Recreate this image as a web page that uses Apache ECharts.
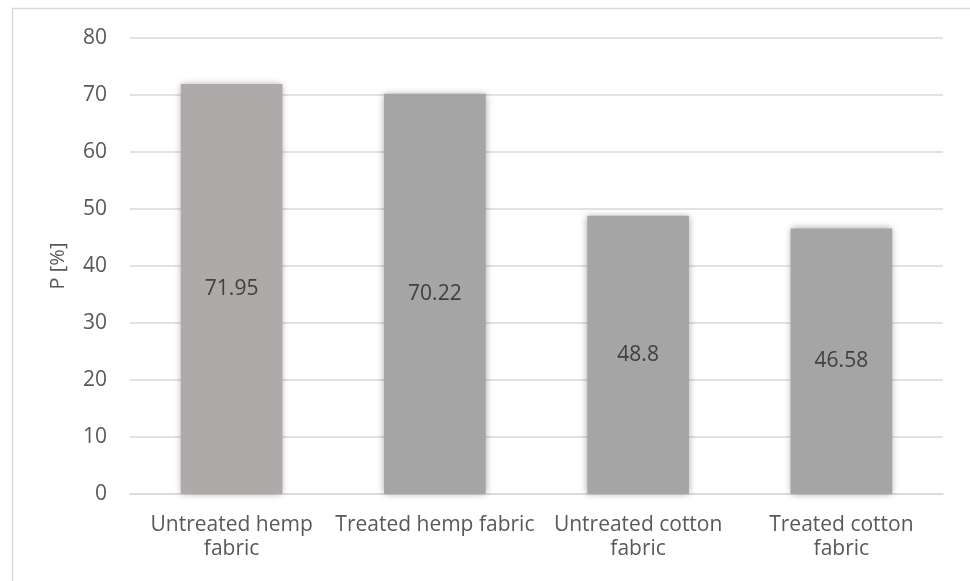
<!DOCTYPE html>
<html>
<head>
<meta charset="utf-8">
<script src="https://cdn.jsdelivr.net/npm/echarts@6/dist/echarts.min.js"></script>
<style>
  html, body { margin: 0; padding: 0; background: #fff; }
  #chart { width: 970px; height: 581px; }
</style>
</head>
<body>
<div id="chart"></div>
<script>
// Porosity of hemp and cotton fabrics
const categories = [
  'Untreated hemp\nfabric',
  'Treated hemp fabric',
  'Untreated cotton\nfabric',
  'Treated cotton\nfabric'
];
const porosity = [71.95, 70.22, 48.8, 46.58];
const barColors = ['#ADAAA9', '#A5A5A5', '#A5A5A5', '#A5A5A5'];
const yTicks = { min: 0, max: 80, interval: 10 };
const yName = 'P [%]';

const font = '"Open Sans", "Liberation Sans", sans-serif';

const chart = echarts.init(document.getElementById('chart'), null, { renderer: 'canvas' });

chart.setOption({
  animation: false,
  backgroundColor: '#ffffff',
  graphic: [{
    type: 'rect',
    shape: { x: 12.5, y: 8.5, width: 1000, height: 700 },
    style: { fill: 'none', stroke: '#D9D9D9', lineWidth: 1.5 },
    silent: true
  }],
  grid: { left: 130, right: 27, top: 38, bottom: 87, containLabel: false },
  xAxis: {
    type: 'category',
    data: categories,
    axisLine: { show: true, lineStyle: { color: '#D9D9D9', width: 1.5 } },
    axisTick: { show: false },
    axisLabel: {
      color: '#595959',
      fontFamily: font,
      fontSize: 21,
      lineHeight: 24,
      margin: 19,
      interval: 0
    }
  },
  yAxis: {
    type: 'value',
    min: yTicks.min,
    max: yTicks.max,
    interval: yTicks.interval,
    name: yName,
    nameLocation: 'middle',
    nameRotate: 90,
    nameGap: 62,
    nameTextStyle: { color: '#595959', fontFamily: font, fontSize: 20 },
    axisLine: { show: false },
    axisTick: { show: false },
    splitLine: { lineStyle: { color: '#D9D9D9', width: 1.5 } },
    axisLabel: { color: '#595959', fontFamily: font, fontSize: 21, margin: 23 }
  },
  series: [{
    type: 'bar',
    data: porosity.map((v, i) => ({ value: v, itemStyle: { color: barColors[i] } })),
    barWidth: '50%',
    itemStyle: {
      shadowColor: 'rgba(0,0,0,0.35)',
      shadowBlur: 7,
      shadowOffsetX: 0,
      shadowOffsetY: 0
    },
    label: {
      show: true,
      position: 'inside',
      color: '#404040',
      fontFamily: font,
      fontSize: 21,
      formatter: p => String(p.value)
    }
  }]
});
</script>
</body>
</html>
